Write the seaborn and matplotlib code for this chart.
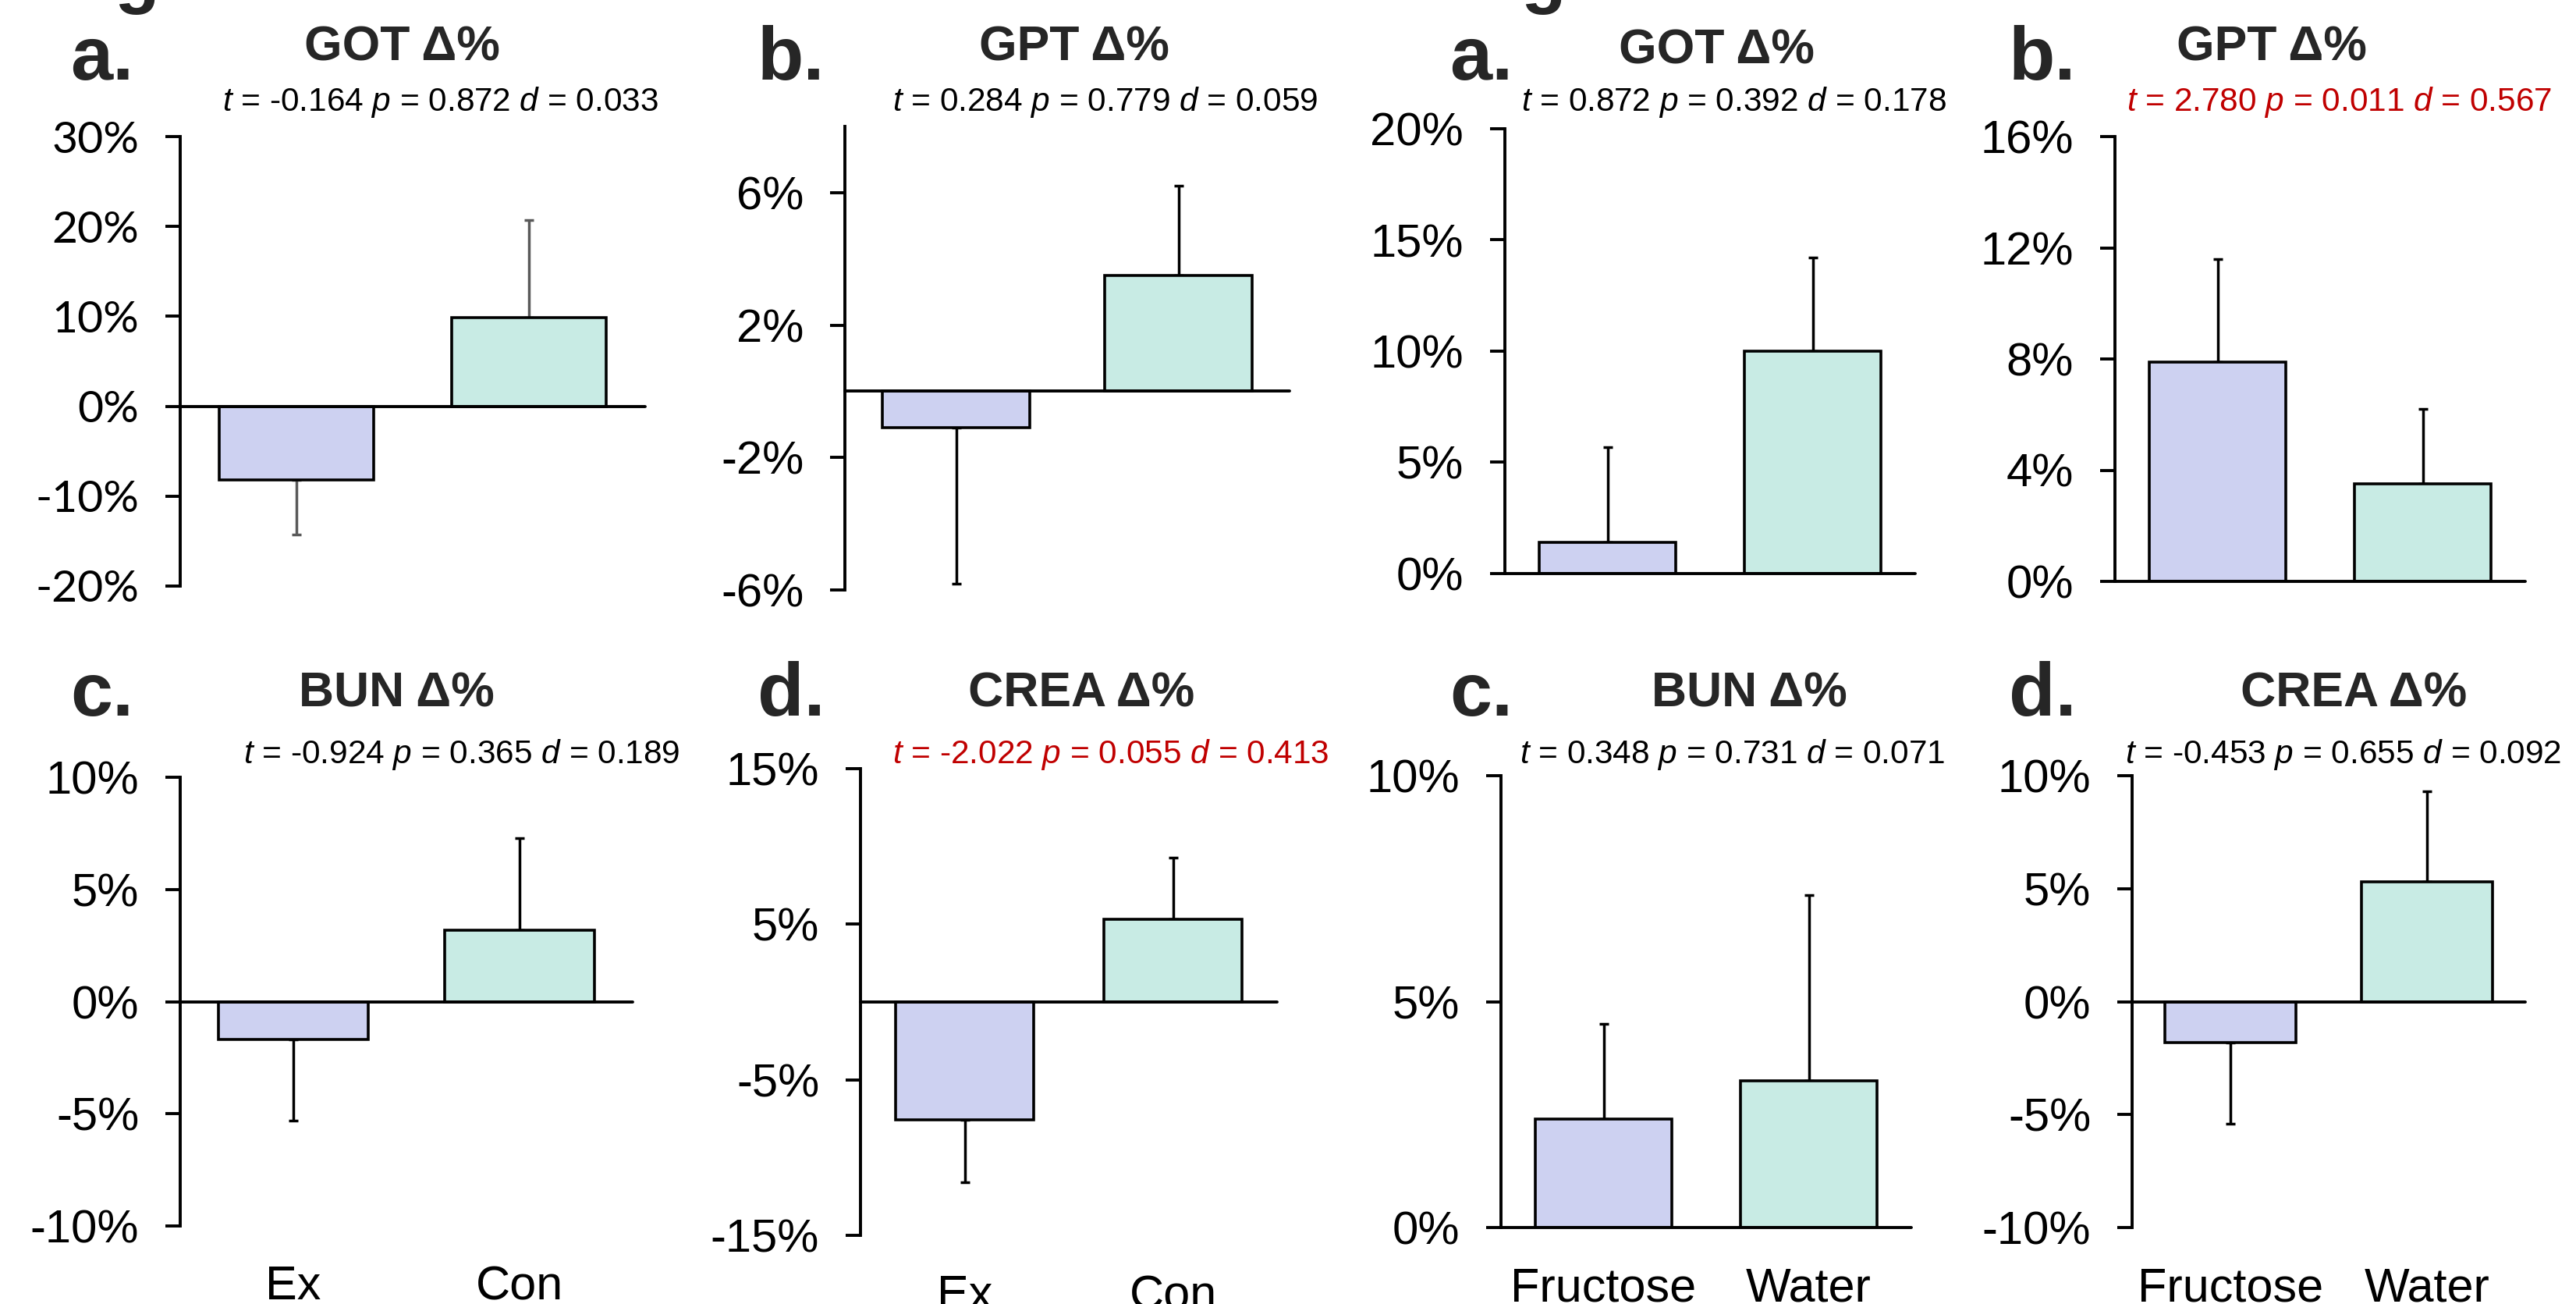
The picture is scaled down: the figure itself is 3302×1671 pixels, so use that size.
import matplotlib
matplotlib.use("Agg")
import matplotlib.pyplot as plt
import pandas as pd
import seaborn as sns

# --- data (values in %) ---
groups_ex = ["Ex", "Con"]
groups_fw = ["Fructose", "Water"]

got_ex_mean = [-8.2, 9.9]
got_ex_err = [6.1, 10.8]
gpt_ex_mean = [-1.1, 3.5]
gpt_ex_err = [4.7, 2.7]
bun_ex_mean = [-1.7, 3.2]
bun_ex_err = [3.6, 4.1]
crea_ex_mean = [-7.6, 5.3]
crea_ex_err = [4.0, 4.0]

got_fw_mean = [1.4, 10.0]
got_fw_err = [4.3, 4.2]
gpt_fw_mean = [7.9, 3.5]
gpt_fw_err = [3.7, 2.7]
bun_fw_mean = [2.4, 3.25]
bun_fw_err = [2.1, 4.1]
crea_fw_mean = [-1.8, 5.3]
crea_fw_err = [3.6, 4.0]

titles = ["GOT Δ%", "GPT Δ%", "BUN Δ%", "CREA Δ%"]
letters = ["a.", "b.", "c.", "d."]

stats_ex = [("-0.164", "0.872", "0.033"), ("0.284", "0.779", "0.059"),
            ("-0.924", "0.365", "0.189"), ("-2.022", "0.055", "0.413")]
stats_fw = [("0.872", "0.392", "0.178"), ("2.780", "0.011", "0.567"),
            ("0.348", "0.731", "0.071"), ("-0.453", "0.655", "0.092")]
significant_ex = [False, False, False, True]
significant_fw = [False, True, False, False]

yticks_list = [[-20, -10, 0, 10, 20, 30], [-6, -2, 2, 6], [-10, -5, 0, 5, 10], [-15, -5, 5, 15],
               [0, 5, 10, 15, 20], [0, 4, 8, 12, 16], [0, 5, 10], [-10, -5, 0, 5, 10]]
ylims = [(-20, 30), (-6, 8), (-10, 10), (-15, 15), (0, 20), (0, 16), (0, 10), (-10, 10)]

# --- style ---
W, H = 3302, 1671
LAV = "#CDD1F1"
MINT = "#C8EBE4"
RED = "#C00000"

sns.set_theme(style="white")
plt.rcParams["font.family"] = ["Liberation Sans", "DejaVu Sans"]
plt.rcParams["mathtext.fontset"] = "custom"
plt.rcParams["mathtext.rm"] = "Liberation Sans"
plt.rcParams["mathtext.it"] = "Liberation Sans:italic"

fig = plt.figure(figsize=(W / 100, H / 100), dpi=100)
fig.patch.set_facecolor("white")


def ftext(x, y, s, **kw):
    fig.text(x / W, 1 - y / H, s, **kw)


# panel boxes in pixels: left, right, top, bottom
boxes = [(231, 827, 175, 751), (1083, 1653, 162, 756), (231, 811, 996, 1571), (1103, 1637, 985, 1583),
         (1929, 2455, 165, 735), (2711, 3237, 175, 745), (1924, 2450, 994, 1573), (2733, 3237, 994, 1573)]
letter_pos = [(90, 102), (971, 102), (90, 917), (971, 917),
              (1858, 102), (2575, 102), (1858, 917), (2575, 917)]
title_pos = [(515, 77), (1377, 77), (508, 906), (1386, 906),
             (2200, 82), (2912, 77), (2242, 906), (3017, 906)]
stat_pos = [(564, 142), (1416, 142), (592, 978), (1424, 978),
            (2222, 142), (2999, 142), (2221, 978), (3004, 978)]

means = [got_ex_mean, gpt_ex_mean, bun_ex_mean, crea_ex_mean,
         got_fw_mean, gpt_fw_mean, bun_fw_mean, crea_fw_mean]
errs = [got_ex_err, gpt_ex_err, bun_ex_err, crea_ex_err,
        got_fw_err, gpt_fw_err, bun_fw_err, crea_fw_err]
stats = stats_ex + stats_fw
signif = significant_ex + significant_fw

for i in range(8):
    groups = groups_ex if i < 4 else groups_fw
    left, right, top, bottom = boxes[i]
    ax = fig.add_axes([left / W, 1 - bottom / H, (right - left) / W, (bottom - top) / H])
    df = pd.DataFrame({"group": groups, "value": means[i]})
    sns.barplot(data=df, x="group", y="value", hue="group", palette=[LAV, MINT],
                saturation=1, width=0.665, edgecolor="black", linewidth=2.6,
                errorbar=None, legend=False, ax=ax, zorder=2)

    # one-sided error bars, pointing away from zero
    lower = [e if m < 0 else 0 for m, e in zip(means[i], errs[i])]
    upper = [e if m >= 0 else 0 for m, e in zip(means[i], errs[i])]
    ecol = "#5a5a5a" if i == 0 else "black"
    ax.errorbar([0, 1], means[i], yerr=[lower, upper], fmt="none", ecolor=ecol,
                elinewidth=2.5, capsize=4, capthick=2.5, zorder=1)

    ax.axhline(0, color="black", lw=2.8, clip_on=False, zorder=3)
    ax.set_xlim(-0.5, 1.5)
    ax.set_ylim(*ylims[i])
    ticks = yticks_list[i]
    ax.set_yticks(ticks, [f"{t}%" for t in ticks])
    ax.set_xlabel("")
    ax.set_ylabel("")
    for side in ["top", "right", "bottom"]:
        ax.spines[side].set_visible(False)
    ax.spines["left"].set_linewidth(2.8)
    ax.spines["left"].set_color("black")
    ax.tick_params(axis="y", direction="out", length=14, width=2.8, pad=24,
                   labelsize=43, colors="black", left=True)
    if i == 0:
        for lab in ax.get_yticklabels():
            lab.set_family("Lato")
            lab.set_fontsize(41)
    if i in (2, 3, 6, 7):
        ax.tick_params(axis="x", length=0, pad=36, labelsize=44, colors="black")
    else:
        ax.set_xticks([])

    ftext(*letter_pos[i], letters[i % 4], fontsize=70, fontweight="bold", ha="left", va="baseline")
    ftext(*title_pos[i], titles[i % 4], fontsize=45, fontweight="bold", ha="center", va="baseline")
    t, p, d = stats[i]
    ftext(*stat_pos[i], rf"$\mathit{{t}}$ = {t} $\mathit{{p}}$ = {p} $\mathit{{d}}$ = {d}",
          fontsize=30.5, ha="center", va="baseline", color=RED if signif[i] else "black")

# descenders of the cut-off figure letters at the very top
ftext(146, -1, "g", fontsize=68, fontweight="bold", ha="left", va="baseline")
ftext(1949, -1, "g", fontsize=68, fontweight="bold", ha="left", va="baseline")

fig.savefig("out.png", dpi=100, facecolor="white")
